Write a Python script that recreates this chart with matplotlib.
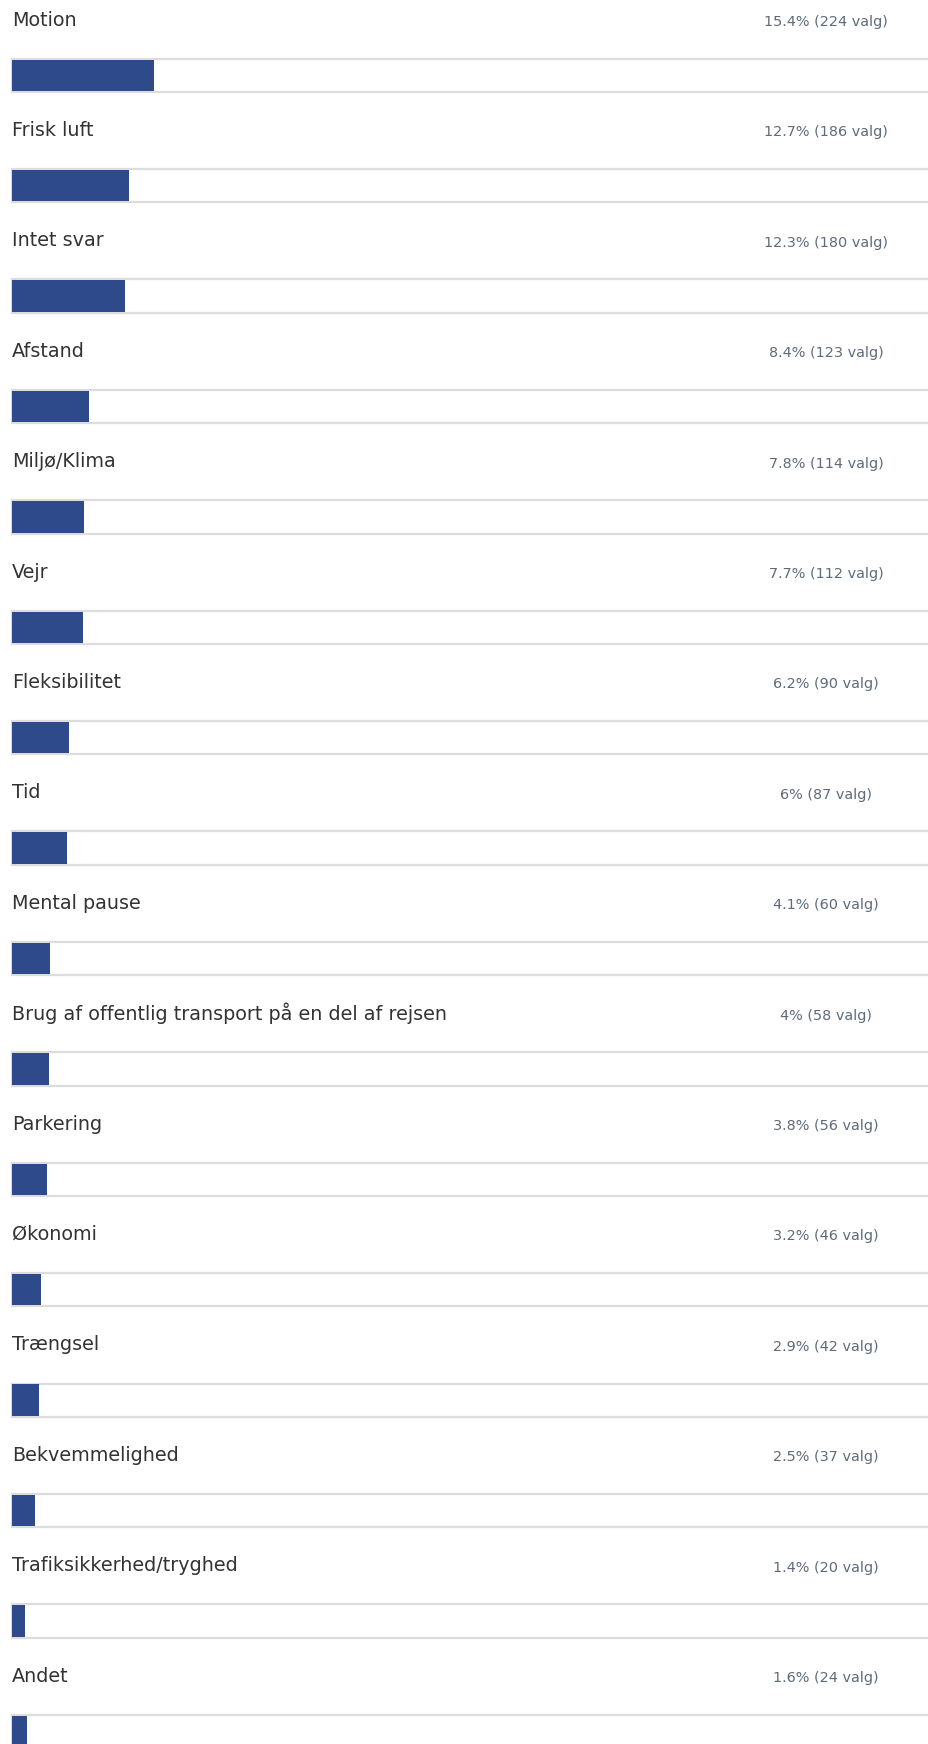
import matplotlib.pyplot as plt

plt.rcParams['font.family'] = ['DejaVu Sans']

# Data
labels = ['Motion', 'Frisk luft', 'Intet svar', 'Afstand', 'Miljø/Klima', 'Vejr',
          'Fleksibilitet', 'Tid', 'Mental pause',
          'Brug af offentlig transport på en del af rejsen', 'Parkering', 'Økonomi',
          'Trængsel', 'Bekvemmelighed', 'Trafiksikkerhed/tryghed', 'Andet']
pct = [15.4, 12.7, 12.3, 8.4, 7.8, 7.7, 6.2, 6, 4.1, 4, 3.8, 3.2, 2.9, 2.5, 1.4, 1.6]
counts = [224, 186, 180, 123, 114, 112, 90, 87, 60, 58, 56, 46, 42, 37, 20, 24]

W, H = 929, 1744
fig = plt.figure(figsize=(W / 100, H / 100), dpi=100)
ax = fig.add_axes([0, 0, 1, 1])

px_per_pct = 9.21
left_px = 12
pitch = 110.4

ax.set_xlim(-left_px / px_per_pct, (W - left_px) / px_per_pct)
ax.set_ylim(H / pitch, 0)
ax.axis('off')

bar_col = '#2f4a8a'
for i, (lab, p, n) in enumerate(zip(labels, pct, counts)):
    y_lab = i + 20 / pitch
    y_bar = i + (58.7 + 92) / 2 / pitch
    h = (92 - 58.7) / pitch
    # track
    ax.barh(y_bar, 101, height=h, left=0, color='white', edgecolor='#dcdcdc',
            linewidth=1.6, zorder=1)
    # value bar
    ax.barh(y_bar, p, height=h * 0.94, left=0, color=bar_col, edgecolor='none', zorder=2)
    ax.text(0, y_lab, lab, fontsize=13.8, color='#333333', va='center', ha='left')
    ax.text((826 - left_px) / px_per_pct, y_lab + 2 / pitch, f'{p:g}% ({n} valg)',
            fontsize=10.4, color='#5f6b7a', va='center', ha='center')

fig.savefig('out.png', dpi=100)
